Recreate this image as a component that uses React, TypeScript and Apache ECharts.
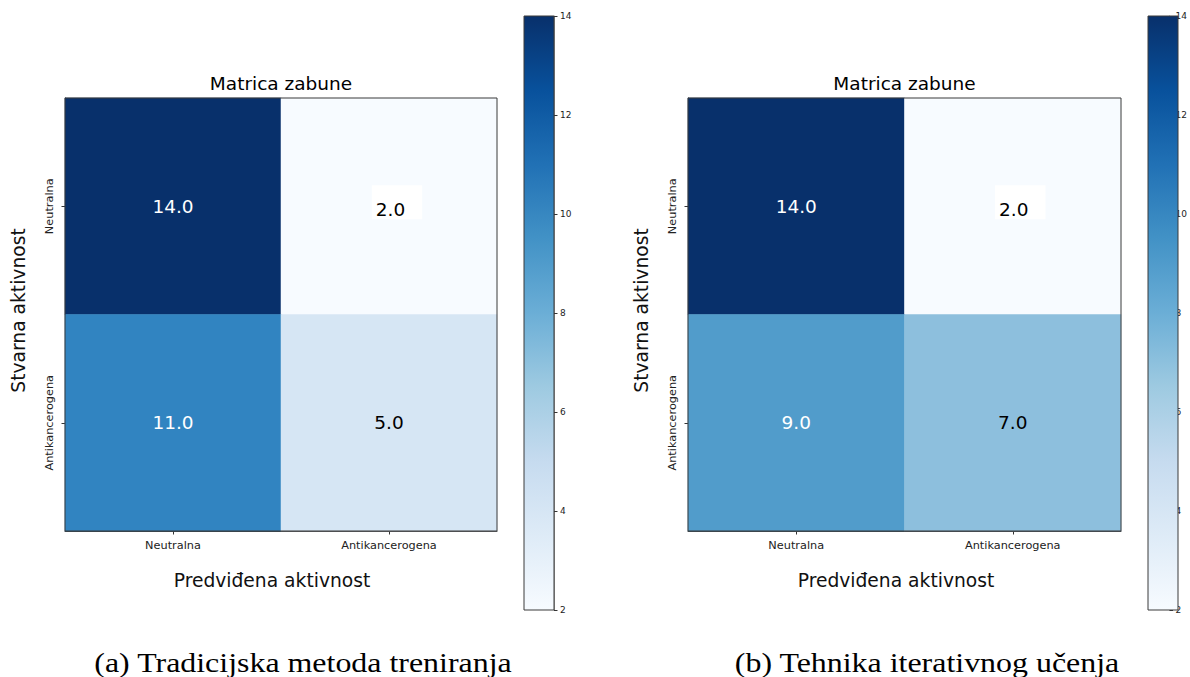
import React, { useEffect, useRef } from "react";
import * as echarts from "echarts";

// ---- data ----
const predictedCategories = ["Neutralna", "Antikancerogena"];
const actualCategories = ["Neutralna", "Antikancerogena"];
// rows = actual, cols = predicted
const matrixTraditional = [
  [14, 2],
  [11, 5],
];
const matrixIterative = [
  [14, 2],
  [9, 7],
];
const colorMin = 2;
const colorMax = 14;
const colorTickStep = 2;
const panelTitles = ["Matrica zabune", "Matrica zabune"];
const captions = ["(a) Tradicijska metoda treniranja", "(b) Tehnika iterativnog učenja"];
const xAxisName = "Predviđena aktivnost";
const yAxisName = "Stvarna aktivnost";

// matplotlib "Blues" stops (colorbar)
const bluesStops = ["#f7fbff", "#deebf7", "#c6dbef", "#9ecae1", "#6baed6", "#4292c6", "#2171b5", "#08519c", "#08306b"];
// cell palette, one colour per integer value 2..14 (as seen in the picture)
const cellPalette = [
  "#f7fbff", "#e8f1fa", "#deebf7", "#d6e6f4", "#b5d4e9", "#8dbfdd", "#6dacd5",
  "#519ccb", "#3f8fc5", "#3184c1", "#1d6cb1", "#0d4f99", "#08306b",
];

const FONT = "DejaVu Sans";

// ---- layout ----
const panels = [
  { grid: { left: 65, top: 98, width: 432, height: 433 }, cbar: { left: 524, top: 16, width: 30, height: 594 }, boxOffset: [8, -21], xNameShift: 9, captionX: 303 },
  { grid: { left: 688, top: 98, width: 433, height: 433 }, cbar: { left: 1148, top: 16, width: 30, height: 594 }, boxOffset: [7.5, -21], xNameShift: 8.5, captionX: 927 },
];

function buildData(matrix: number[][], boxOffset: number[]) {
  const out: any[] = [];
  matrix.forEach((row, r) => {
    row.forEach((v, c) => {
      const item: any = { value: [c, r, v] };
      const label: any = { color: v > (colorMin + colorMax) / 2 ? "#ffffff" : "#000000" };
      if (r === 0 && c === 1) {
        label.backgroundColor = "#ffffff";
        label.padding = [14, 17, 0, 4];
        label.verticalAlign = "top";
        label.offset = boxOffset;
      }
      item.label = label;
      out.push(item);
    });
  });
  return out;
}

export default function App() {
  const ref = useRef<HTMLDivElement>(null);
  useEffect(() => {
    if (!ref.current) return;
    const chart = echarts.init(ref.current, null, { renderer: "svg" });
    const matrices = [matrixTraditional, matrixIterative];

    const grids: any[] = [];
    const xAxes: any[] = [];
    const yAxes: any[] = [];
    const series: any[] = [];
    const visualMaps: any[] = [];
    const graphics: any[] = [];

    panels.forEach((p, i) => {
      const gi = grids.length;
      grids.push({
        ...p.grid,
        show: true,
        z: 3,
        backgroundColor: "transparent",
        borderColor: "#3a3a3a",
        borderWidth: 1,
      });
      xAxes.push({
        gridIndex: gi,
        type: "category",
        data: predictedCategories,
        axisLine: { show: true, onZero: false, lineStyle: { color: "#3a3a3a" } },
        axisTick: { show: true, alignWithLabel: true, length: 3.5, lineStyle: { color: "#333" } },
        axisLabel: { fontFamily: FONT, fontSize: 11.3, color: "#222", margin: 9 },
        splitArea: { show: false },
        name: xAxisName,
        nameLocation: "middle",
        nameGap: 40,
        nameTextStyle: { fontFamily: FONT, fontSize: 18.7, color: "#111", padding: [0, p.xNameShift * 2, 0, 0] },
      });
      yAxes.push({
        gridIndex: gi,
        type: "category",
        data: actualCategories,
        inverse: true,
        axisLine: { show: true, onZero: false, lineStyle: { color: "#3a3a3a" } },
        axisTick: { show: true, alignWithLabel: true, length: 3.5, lineStyle: { color: "#333" } },
        axisLabel: { fontFamily: FONT, fontSize: 11.3, color: "#222", rotate: 90, margin: 10 },
        splitArea: { show: false },
        name: yAxisName,
        nameLocation: "middle",
        nameRotate: 90,
        nameGap: 37,
        nameTextStyle: { fontFamily: FONT, fontSize: 18.7, color: "#111", padding: [0, 0, 0, 8] },
      });
      series.push({
        type: "heatmap",
        xAxisIndex: gi,
        yAxisIndex: gi,
        data: buildData(matrices[i], p.boxOffset),
        label: {
          show: true,
          fontFamily: FONT,
          fontSize: 18.5,
          lineHeight: 20,
          formatter: (prm: any) => Number(prm.value[2]).toFixed(1),
        },
        itemStyle: { borderWidth: 0 },
        emphasis: { disabled: true },
      });
      visualMaps.push({
        type: "continuous",
        show: false,
        seriesIndex: i,
        dimension: 2,
        min: colorMin,
        max: colorMax,
        inRange: { color: cellPalette },
      });

      // colorbar axis grid
      const ci = grids.length;
      grids.push({ ...p.cbar, show: false });
      xAxes.push({ gridIndex: ci, type: "value", show: false, min: 0, max: 1 });
      yAxes.push({
        gridIndex: ci,
        type: "value",
        position: "right",
        min: colorMin,
        max: colorMax,
        interval: colorTickStep,
        axisLine: { show: true, onZero: false, lineStyle: { color: "#999", width: 1 } },
        axisTick: { show: true, length: 3.5, lineStyle: { color: "#333" } },
        axisLabel: { fontFamily: FONT, fontSize: 9, color: "#222", margin: 6 },
        splitLine: { show: false },
      });

      const stops = bluesStops.map((c, k) => ({ offset: 1 - k / (bluesStops.length - 1), color: c }));
      graphics.push({
        type: "rect",
        z: 10,
        shape: { x: p.cbar.left, y: p.cbar.top, width: p.cbar.width, height: p.cbar.height },
        style: {
          fill: new echarts.graphic.LinearGradient(0, 0, 0, 1, stops.slice().reverse()),
          stroke: "#3a3a3a",
          lineWidth: 1,
        },
      });
      graphics.push({
        type: "text",
        z: 10,
        x: p.grid.left + p.grid.width / 2,
        y: 83,
        style: {
          text: panelTitles[i],
          fontFamily: FONT,
          fontSize: 18.5,
          fill: "#000",
          textAlign: "center",
          textVerticalAlign: "middle",
        },
      });
      graphics.push({
        type: "text",
        z: 10,
        x: p.captionX,
        y: 662,
        scaleX: 1.14,
        style: {
          text: captions[i],
          fontFamily: "Liberation Serif",
          fontSize: 28,
          fill: "#000",
          textAlign: "center",
          textVerticalAlign: "middle",
        },
      });
    });

    chart.setOption({
      animation: false,
      backgroundColor: "#ffffff",
      grid: grids,
      xAxis: xAxes,
      yAxis: yAxes,
      visualMap: visualMaps,
      series,
      graphic: graphics,
    });
    return () => chart.dispose();
  }, []);
  return <div ref={ref} style={{ position: "absolute", left: 0, top: 0, width: 1190, height: 677 }} />;
}
